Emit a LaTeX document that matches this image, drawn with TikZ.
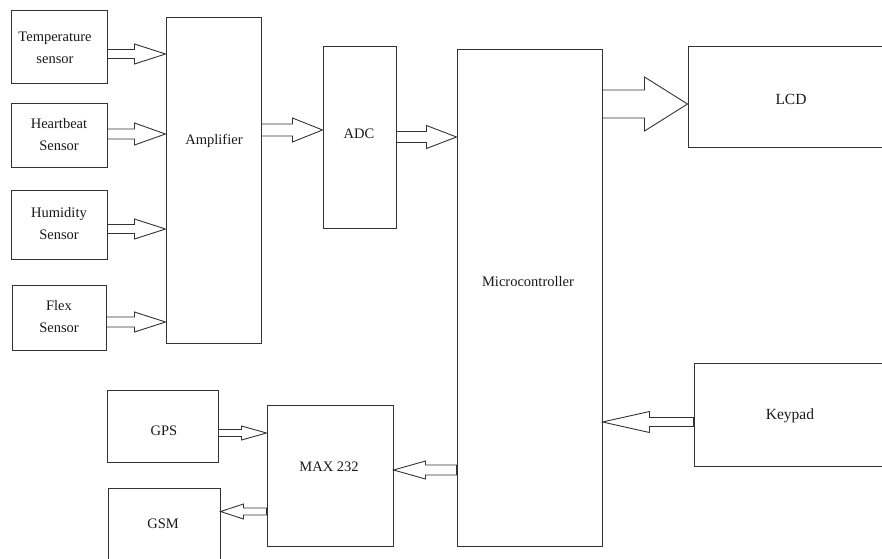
\documentclass[tikz,border=0pt]{standalone}
\usepackage{fontspec}
\setmainfont{Liberation Serif}
\usetikzlibrary{calc}
\definecolor{ln}{HTML}{333333}
\tikzset{
  box/.style={draw=ln, line width=1pt, inner sep=0pt, anchor=center},
  lbl/.style={text=black!90, align=center, inner sep=0pt, font=\fontsize{14.5}{22}\selectfont},
  biglbl/.style={lbl, font=\fontsize{15.5}{22}\selectfont},
  blockarrow/.style={draw=ln, line width=0.9pt, line join=miter}
}
% #1 start, #2 end, #3 shaft half width, #4 head half width, #5 head length
\newcommand{\barrow}[5]{%
  \draw[blockarrow] let \p1=#1, \p2=#2, \n1={#5*sign(\x2-\x1)} in
   (\x1,{\y1+#3}) -- ({\x2-\n1*1pt},{\y1+#3}) -- ({\x2-\n1*1pt},{\y1+#4}) -- (\x2,\y1)
   -- ({\x2-\n1*1pt},{\y1-#4}) -- ({\x2-\n1*1pt},{\y1-#3}) -- (\x1,{\y1-#3}) -- cycle;}
\begin{document}
\begin{tikzpicture}[x=1pt,y=-1pt]
\useasboundingbox (0,0) rectangle (882,558);
% boxes
\node[box, minimum width=96pt, minimum height=73pt] (temp) at (59,46.5) {};
\node[box, minimum width=96pt, minimum height=64pt] (heart) at (59,135) {};
\node[box, minimum width=96pt, minimum height=69pt] (humid) at (59,224.5) {};
\node[box, minimum width=94pt, minimum height=65pt] (flex) at (59,317.5) {};
\node[box, minimum width=95pt, minimum height=326pt] (amp) at (213.5,180) {};
\node[box, minimum width=73pt, minimum height=182pt] (adc) at (359.5,137) {};
\node[box, minimum width=145pt, minimum height=497pt] (micro) at (529.5,297.5) {};
\node[box, minimum width=200pt, minimum height=101pt] (lcd) at (788,96.5) {};
\node[box, minimum width=194pt, minimum height=103pt] (keypad) at (791,414.5) {};
\node[box, minimum width=111pt, minimum height=72pt] (gps) at (162.5,426) {};
\node[box, minimum width=126pt, minimum height=141pt] (max) at (330,475.5) {};
\node[box, minimum width=112pt, minimum height=82pt] (gsm) at (164,529) {};
% labels
\node[lbl] (tempT) at (55,48) {Temperature\\sensor};
\node[lbl] (heartT) at (59,135) {Heartbeat\\Sensor};
\node[lbl] (humidT) at (59,224) {Humidity\\Sensor};
\node[lbl] (flexT) at (59,317) {Flex\\Sensor};
\node[lbl] (ampT) at (214,141) {Amplifier};
\node[lbl] (adcT) at (359,134) {ADC};
\node[lbl] (microT) at (528,282) {Microcontroller};
\node[biglbl] (lcdT) at (791,99) {LCD};
\node[biglbl] (keypadT) at (790,416) {Keypad};
\node[lbl] (gpsT) at (164,431) {GPS};
\node[lbl] (maxT) at (329,467) {MAX 232};
\node[lbl] (gsmT) at (163,524) {GSM};
% block arrows
\barrow{($(temp.east)+(0,7.5)$)}{(amp.west)}{4.5pt}{10pt}{31}
\barrow{($(heart.east)+(0,-1)$)}{(amp.west)}{5pt}{11pt}{31}
\barrow{($(humid.east)+(0,4.5)$)}{(amp.west)}{4.5pt}{10pt}{31}
\barrow{($(flex.east)+(0,4.5)$)}{(amp.west)}{5pt}{10pt}{31}
\barrow{($(amp.east|-adc.center)+(0,-7)$)}{(adc.west)}{6pt}{12pt}{30}
\barrow{(adc.east)}{(micro.west)}{5.5pt}{11.5pt}{30}
\barrow{($(micro.east|-lcd.center)+(0,7.5)$)}{(lcd.west)}{14pt}{27pt}{43}
\barrow{($(keypad.west)+(0,7.5)$)}{(micro.east)}{4.5pt}{10.5pt}{47}
\barrow{($(gps.east)+(0,7)$)}{(max.west)}{3.5pt}{7pt}{25}
\barrow{($(micro.west|-max.center)+(0,-5.5)$)}{(max.east)}{5pt}{9pt}{32}
\barrow{($(max.west|-gsm.north)+(0,24)$)}{(gsm.east)}{3.5pt}{7.5pt}{23}
\end{tikzpicture}
\end{document}
